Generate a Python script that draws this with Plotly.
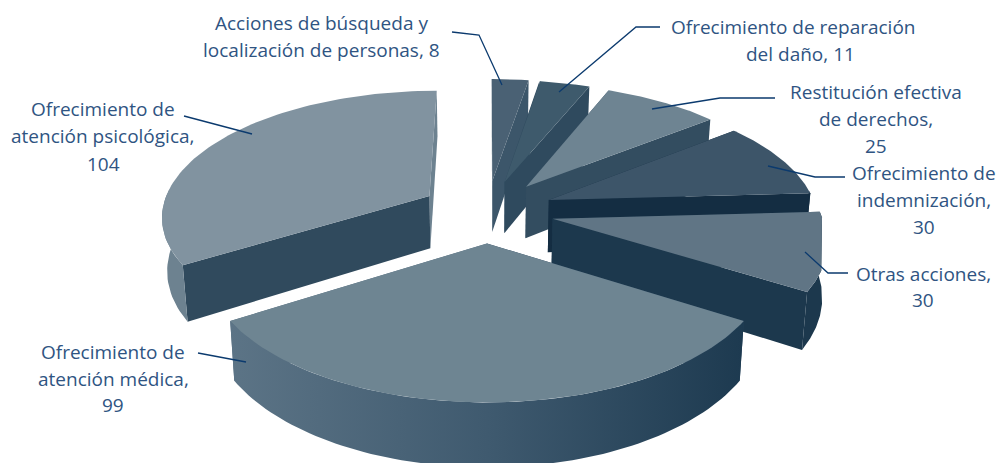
import numpy as np
import plotly.graph_objects as go

# ---- data ----
categories = ["Acciones de búsqueda y localización de personas", "Ofrecimiento de reparación del daño",
              "Restitución efectiva de derechos", "Ofrecimiento de indemnización", "Otras acciones",
              "Ofrecimiento de atención médica", "Ofrecimiento de atención psicológica"]
values = [8, 11, 25, 30, 30, 99, 104]

# ---- styles ----
top_colors = ["#4a6174", "#3e5a6c", "#6e8492", "#3d5569", "#607585", "#6e8592", "#8193a0"]
start_wall = ["#3c566a", "#2f4a5e", "#334d60", "#142d42", "#1c384d", "#24405a", "#304a5d"]
end_wall = ["#3c566a", "#2f4a5e", "#334d60", "#142d42", "#1c384d", "#536b7e", "#6d8290"]
outer_colors = ["#3c566a", "#2f4a5e", "#334d60", "#142d42", "#1c384d", None, "#6d8290"]
gradient_99 = [[0, "#5c7486"], [0.5, "#3f5a6f"], [1, "#1d3a50"]]

# ---- projection parameters ----
CX, CY, RX, RY, PERSP, DEPTH, EXPLODE = 487, 211, 268, 125, 0.147, 53, 0.25
DEPTH_SHRINK = 0.0003   # lower rim leans slightly toward the centre
RIGHT_CROP = 822        # the reference picture is cropped on this edge


def project(X, Y, z=0.0):
    s = 1.0 / (1.0 + PERSP * np.asarray(Y))
    x = CX + RX * np.asarray(X) * s * (1 - DEPTH_SHRINK * z)
    return np.minimum(x, RIGHT_CROP), CY - RY * np.asarray(Y) * s + z * s


fig = go.Figure()


def poly(xs, ys, color=None, gradient=None):
    kw = dict(fillgradient=dict(type="horizontal", colorscale=gradient)) if gradient else dict(fillcolor=color)
    fig.add_trace(go.Scatter(x=list(xs), y=list(ys), mode="lines", fill="toself",
                             line=dict(width=0), hoverinfo="skip", showlegend=False, **kw))


total = sum(values)
edges = np.cumsum([0] + values) / total * 2 * np.pi
slices = []
for i, v in enumerate(values):
    a0, a1 = edges[i], edges[i + 1]
    mid = (a0 + a1) / 2
    ox, oy = EXPLODE * np.sin(mid), EXPLODE * np.cos(mid)
    slices.append((oy, i, a0, a1, ox, oy))

# back-to-front painter's order
for _, i, a0, a1, ox, oy in sorted(slices, key=lambda t: -t[0]):
    th = np.linspace(a0, a1, 80)
    wx, wy = ox + np.sin(th), oy + np.cos(th)
    faces = []
    for ang, col in ((a0, start_wall[i]), (a1, end_wall[i])):
        X = np.array([ox, ox + np.sin(ang)])
        Y = np.array([oy, oy + np.cos(ang)])
        faces.append((Y.mean(), X, Y, col))
    faces.sort(key=lambda f: -f[0])
    for _, X, Y, col in faces:
        xt, yt = project(X, Y)
        xb, yb = project(X, Y, DEPTH)
        poly(list(xt) + list(xb[::-1]), list(yt) + list(yb[::-1]), col)
    vis = wy - oy < 0.08
    if vis.any():
        xt, yt = project(wx[vis], wy[vis])
        xb, yb = project(wx[vis], wy[vis], DEPTH)
        poly(list(xt) + list(xb[::-1]), list(yt) + list(yb[::-1]), outer_colors[i],
             gradient_99 if outer_colors[i] is None else None)
    xt, yt = project(np.r_[ox, wx], np.r_[oy, wy])
    poly(xt, yt, top_colors[i])

# ---- labels ----
label_lines = [
    ("Acciones de búsqueda y", 321, 23), ("localización de personas, 8", 321, 50),
    ("Ofrecimiento de reparación", 793, 27), ("del daño, 11", 800, 54),
    ("Restitución efectiva", 876, 92), ("de derechos,", 876, 119), ("25", 876, 146),
    ("Ofrecimiento de", 924, 173), ("indemnización,", 924, 200), ("30", 924, 227),
    ("Otras acciones,", 923, 274), ("30", 923, 300),
    ("Ofrecimiento de", 113, 352), ("atención médica,", 113, 379), ("99", 113, 405),
    ("Ofrecimiento de", 103, 109), ("atención psicológica,", 103, 136), ("104", 103, 164),
]
annotations = [dict(x=x, y=y, text=t, showarrow=False, xanchor="center", yanchor="middle",
                    font=dict(family="Open Sans", size=19, color="#2f5482")) for t, x, y in label_lines]

leaders = [
    [(452, 32), (479, 35), (502, 85)],
    [(559, 92), (636, 27), (660, 27)],
    [(652, 109), (720, 98), (775, 98)],
    [(768, 166), (815, 177), (845, 177)],
    [(805, 252), (828, 273), (848, 273)],
    [(198, 353), (246, 362)],
    [(184, 116), (252, 134)],
]
shapes = [dict(type="path", xref="x", yref="y",
               path="M" + " L".join(f"{x},{y}" for x, y in pts),
               line=dict(color="#0b3a6e", width=1.3)) for pts in leaders]

fig.update_layout(
    width=998, height=463, margin=dict(l=0, r=0, t=0, b=0),
    paper_bgcolor="white", plot_bgcolor="white", showlegend=False,
    xaxis=dict(range=[0, 998], visible=False, fixedrange=True),
    yaxis=dict(range=[463, 0], visible=False, fixedrange=True),
    annotations=annotations, shapes=shapes,
)
fig.write_html("out.html", config=dict(displayModeBar=False),
               post_script="document.body.style.margin='0';document.body.style.overflow='hidden';")
